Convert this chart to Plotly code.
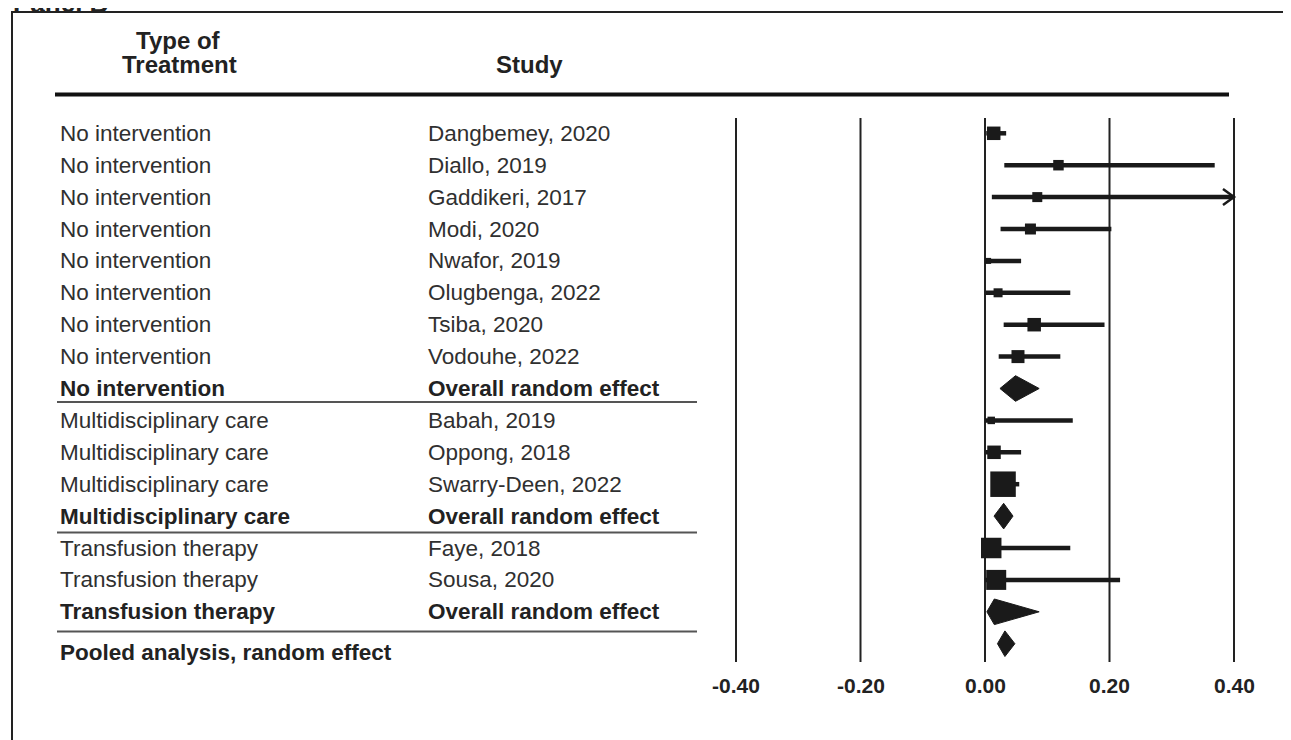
import plotly.graph_objects as go

# ---------------- data ----------------
treatment_types = ["No intervention"] * 8 + ["Multidisciplinary care"] * 3 + ["Transfusion therapy"] * 2
studies = ["Dangbemey, 2020", "Diallo, 2019", "Gaddikeri, 2017", "Modi, 2020", "Nwafor, 2019",
           "Olugbenga, 2022", "Tsiba, 2020", "Vodouhe, 2022",
           "Babah, 2019", "Oppong, 2018", "Swarry-Deen, 2022",
           "Faye, 2018", "Sousa, 2020"]
est = [0.014, 0.118, 0.084, 0.073, 0.005, 0.021, 0.079, 0.053, 0.010, 0.0145, 0.029, 0.010, 0.018]
lo = [0.002, 0.031, 0.011, 0.025, 0.000, 0.001, 0.030, 0.022, 0.000, 0.001, 0.012, 0.000, 0.000]
hi = [0.034, 0.369, 0.450, 0.203, 0.058, 0.137, 0.192, 0.121, 0.141, 0.058, 0.055, 0.137, 0.217]
weights = [13.5, 10.5, 10, 11, 6, 9, 13.5, 13, 7.5, 13.5, 25.5, 20.5, 20]  # relative study weight

subgroups = ["No intervention", "Multidisciplinary care", "Transfusion therapy"]
sub_est = [0.049, 0.030, 0.015]
sub_lo = [0.024, 0.0145, 0.003]
sub_hi = [0.087, 0.045, 0.087]

pooled_label = "Pooled analysis, random effect"
pooled_est, pooled_lo, pooled_hi = 0.032, 0.020, 0.048

tick_vals = [-0.40, -0.20, 0.00, 0.20, 0.40]
tick_labels = ["-0.40", "-0.20", "0.00", "0.20", "0.40"]
x_max = 0.40  # CI clipped here (arrow)

# ---------------- geometry / style ----------------
W, H = 1291, 740
OFF = 8  # page body margin offset
X0_PX, PX_PER_UNIT = 985.0, 622.5
ROW0_PX, ROW_PX = 133.3, 31.9
x_range = [-(X0_PX - OFF) / PX_PER_UNIT, (W - (X0_PX - OFF)) / PX_PER_UNIT]
y_range = [(H - (ROW0_PX - OFF)) / ROW_PX, -(ROW0_PX - OFF) / ROW_PX]

def px_x(px):
    return (px - OFF) / W

def px_y(py):
    return 1 - (py - OFF) / H

INK = "#1a1a1a"
TXT = "#303030"
FONT = "Liberation Sans, Arial, sans-serif"
FS = 22.5

# row layout: studies, then a subgroup overall row after each group
study_rows = []
sub_rows = []
r = 0
for g in subgroups:
    for t in treatment_types:
        if t == g:
            study_rows.append(r)
            r += 1
    sub_rows.append(r)
    r += 1
pooled_row = r

fig = go.Figure()

# CI lines
cx, cy = [], []
for i in range(len(studies)):
    cx += [lo[i], min(hi[i], x_max), None]
    cy += [study_rows[i], study_rows[i], None]
fig.add_trace(go.Scatter(x=cx, y=cy, mode="lines", line=dict(color=INK, width=4.5),
                         hoverinfo="skip", showlegend=False))

# arrows for clipped CIs
ax_, ay_ = [], []
dx = 11 / PX_PER_UNIT
dy = 8 / ROW_PX
for i in range(len(studies)):
    if hi[i] > x_max:
        yr = study_rows[i]
        ax_ += [x_max - dx, x_max, x_max - dx, None]
        ay_ += [yr - dy, yr, yr + dy, None]
fig.add_trace(go.Scatter(x=ax_, y=ay_, mode="lines", line=dict(color=INK, width=2.5),
                         hoverinfo="skip", showlegend=False))

# squares
fig.add_trace(go.Scatter(x=est, y=study_rows, mode="markers",
                         marker=dict(symbol="square", size=weights, color=INK, opacity=1,
                                     line=dict(width=0)),
                         text=studies, hoverinfo="text+x", showlegend=False))

# diamonds
hh = 12.8 / ROW_PX
def diamond(e, l, h, yr):
    fig.add_trace(go.Scatter(x=[l, e, h, e, l], y=[yr, yr - hh, yr, yr + hh, yr],
                             mode="lines", fill="toself", fillcolor=INK,
                             line=dict(color=INK, width=1), hoverinfo="skip", showlegend=False))

for k in range(len(subgroups)):
    diamond(sub_est[k], sub_lo[k], sub_hi[k], sub_rows[k])
diamond(pooled_est, pooled_lo, pooled_hi, pooled_row)

shapes = []
annotations = []

# frame
shapes.append(dict(type="rect", xref="paper", yref="paper", x0=px_x(12), x1=px_x(1330),
                   y0=px_y(12), y1=px_y(790), line=dict(color="#222", width=2), layer="below"))
# vertical reference lines
for v in tick_vals:
    shapes.append(dict(type="line", xref="x", yref="paper", x0=v, x1=v, y0=px_y(118), y1=px_y(662),
                       line=dict(color="#222", width=2), layer="below"))
# header rule
shapes.append(dict(type="line", xref="paper", yref="paper", x0=px_x(55), x1=px_x(1229),
                   y0=px_y(94.5), y1=px_y(94.5), line=dict(color="#111", width=4)))
# separators
for py in [402, 532.5, 631.5]:
    shapes.append(dict(type="line", xref="paper", yref="paper", x0=px_x(57), x1=px_x(697),
                       y0=px_y(py), y1=px_y(py), line=dict(color="#555", width=2)))

def txt(text, xp, yv, yref="y", bold=False, size=FS, xanchor="left", color=TXT):
    annotations.append(dict(text=f"<b>{text}</b>" if bold else text, x=xp, y=yv, xref="paper",
                            yref=yref, xanchor=xanchor, yanchor="middle", showarrow=False,
                            font=dict(family=FONT, size=size, color=color)))

# panel label (cut off at top, as in the source)
txt("Panel B", px_x(11), px_y(3), yref="paper", bold=True, size=26, color="#222")
# headers
txt("Type of", px_x(178), px_y(40), yref="paper", bold=True, size=24, xanchor="center", color="#222")
txt("Treatment", px_x(179), px_y(64.5), yref="paper", bold=True, size=24, xanchor="center", color="#222")
txt("Study", px_x(529), px_y(64.5), yref="paper", bold=True, size=24, xanchor="center", color="#222")

for i in range(len(studies)):
    txt(treatment_types[i], px_x(58), study_rows[i])
    txt(studies[i], px_x(426), study_rows[i])
for k in range(len(subgroups)):
    txt(subgroups[k], px_x(58), sub_rows[k], bold=True, color="#222")
    txt("Overall random effect", px_x(426), sub_rows[k], bold=True, color="#222")
txt(pooled_label, px_x(58), px_y(652), yref="paper", bold=True, color="#222")

# tick labels
for v, lab in zip(tick_vals, tick_labels):
    annotations.append(dict(text=f"<b>{lab}</b>", x=v, y=px_y(685), xref="x", yref="paper",
                            xanchor="center", yanchor="middle", showarrow=False,
                            font=dict(family=FONT, size=21, color="#222")))

fig.update_layout(
    width=W, height=H, margin=dict(l=0, r=0, t=0, b=0),
    paper_bgcolor="white", plot_bgcolor="white",
    xaxis=dict(range=x_range, visible=False, fixedrange=True),
    yaxis=dict(range=y_range, visible=False, fixedrange=True),
    shapes=shapes, annotations=annotations, showlegend=False,
)

fig.write_html("out.html")
